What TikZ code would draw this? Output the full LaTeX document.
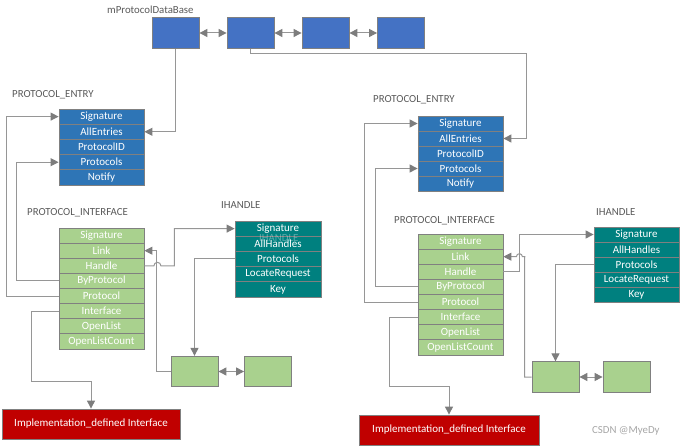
\documentclass[tikz,border=0pt]{standalone}
\usepackage{fontspec}
\setmainfont{Carlito}
\usetikzlibrary{arrows.meta,calc}
\definecolor{topblue}{HTML}{4472C4}
\definecolor{peblue}{HTML}{2E75B6}
\definecolor{pigreen}{HTML}{A9D18E}
\definecolor{ihteal}{HTML}{00807F}
\definecolor{implred}{HTML}{C00000}
\definecolor{cellborder}{RGB}{128,128,128}
\definecolor{conngray}{RGB}{150,150,150}
\definecolor{headgray}{RGB}{125,125,125}
\definecolor{lblgray}{RGB}{89,89,89}
\begin{document}
\begin{tikzpicture}[x=1pt,y=-1pt,
  cell/.style={draw=cellborder, line width=0.8pt, minimum width=85pt, minimum height=15.2pt,
    inner sep=0pt, text=white, font=\fontsize{11}{12}\selectfont},
  pecell/.style={cell, fill=peblue},
  picell/.style={cell, fill=pigreen, minimum height=15.125pt},
  ihcell/.style={cell, fill=ihteal},
  block/.style={draw=cellborder, line width=0.8pt, minimum width=47pt, minimum height=30.5pt, inner sep=0pt},
  lbl/.style={anchor=west, inner sep=0pt, text=lblgray, font=\fontsize{10.8}{12}\selectfont},
  tipA/.tip={Triangle[length=8pt,width=8pt,color=headgray]},
  conn/.style={draw=conngray, line width=1pt, -tipA},
  dconn/.style={draw=conngray, line width=1pt, tipA-tipA},
  redbox/.style={draw=cellborder, line width=0.8pt, fill=implred, text=white, minimum width=178pt,
    minimum height=30pt, inner sep=0pt, font=\fontsize{11}{12}\selectfont}
]
\useasboundingbox (0,0) rectangle (680,446);

% top list
\node[lbl] (dblbl) at (107,10) {mProtocolDataBase};
\node[block, fill=topblue] (t1) at (175.5,33) {};
\node[block, fill=topblue] (t2) at (250.5,33) {};
\node[block, fill=topblue] (t3) at (325.5,33) {};
\node[block, fill=topblue] (t4) at (401,33) {};
\draw[dconn] (t1.east) -- (t2.west);
\draw[dconn] (t2.east) -- (t3.west);
\draw[dconn] (t3.east) -- (t4.west);

% labels
\node[lbl] (lpelbl) at (12,95) {PROTOCOL\_ENTRY};
\node[lbl] (rpelbl) at (373,100) {PROTOCOL\_ENTRY};
\node[lbl] (lpilbl) at (27,213) {PROTOCOL\_INTERFACE};
\node[lbl] (rpilbl) at (394,221) {PROTOCOL\_INTERFACE};
\node[lbl] (lihlbl) at (221,205) {IHANDLE};
\node[lbl] (rihlbl) at (596,212) {IHANDLE};

% left tables
\foreach \t [count=\i] in {Signature,AllEntries,ProtocolID,Protocols,Notify}
  \node[pecell] (lpe\i) at (101.5,{109+15.2*(\i-0.5)}) {\t};
\foreach \t [count=\i] in {Signature,Link,Handle,ByProtocol,Protocol,Interface,OpenList,OpenListCount}
  \node[picell] (lpi\i) at (101.5,{228+15.125*(\i-0.5)}) {\t};
\foreach \t [count=\i] in {Signature,AllHandles,Protocols,LocateRequest,Key}
  \node[ihcell, minimum width=86pt] (lih\i) at (278,{221+15.2*(\i-0.5)}) {\t};
\node[lbl, text=white, opacity=0.35] (ghost) at (259,238) {IHANDLE};

% right tables
\foreach \t [count=\i] in {Signature,AllEntries,ProtocolID,Protocols,Notify}
  \node[pecell, minimum height=15pt] (rpe\i) at (460.5,{116+15*(\i-0.5)}) {\t};
\foreach \t [count=\i] in {Signature,Link,Handle,ByProtocol,Protocol,Interface,OpenList,OpenListCount}
  \node[picell] (rpi\i) at (460.5,{234+15.125*(\i-0.5)}) {\t};
\foreach \t [count=\i] in {Signature,AllHandles,Protocols,LocateRequest,Key}
  \node[ihcell, minimum height=15pt] (rih\i) at (636.5,{227+15*(\i-0.5)}) {\t};

% small green boxes
\node[block, fill=pigreen] (lsa) at (194.5,371.5) {};
\node[block, fill=pigreen] (lsb) at (268,371.5) {};
\node[block, fill=pigreen] (rsa) at (555.5,377) {};
\node[block, fill=pigreen] (rsb) at (626.5,377) {};
\draw[dconn] (lsa.east) -- (lsb.west);
\draw[dconn] (rsa.east) -- (rsb.west);

% red boxes
\node[redbox] (lred) at (91,424) {Implementation\_defined Interface};
\node[redbox, minimum width=180pt] (rred) at (449,430) {Implementation\_defined Interface};

% top connectors
\draw[conn] (t1.south) |- (lpe2.east);
\draw[conn] (t2.south) |- (526,54) |- (rpe2.east);

% left connectors
\draw[conn] (lpi5.west) -- ++(-52,0) |- (lpe1.west);
\draw[conn] (lpi4.west) -- ++(-42,0) |- (lpe4.west);
\draw[conn] (lpi3.east) -- ++(9.5,0) arc[start angle=180,end angle=0,radius=3.5pt] -- ++(13.5,0) |- (lih1.west);
\draw[conn] (lsa.west) -- ++(-14,0) |- (lpi2.east);
\draw[conn] (lih3.west) -| (lsa.north);
\draw[conn] (lpi6.west) -- ++(-27,0) -- ++(0,70) -| (lred.north);

% right connectors
\draw[conn] (rpi5.west) -- ++(-53,0) |- (rpe1.west);
\draw[conn] (rpi4.west) -- ++(-42,0) |- (rpe4.west);
\draw[conn] (rpi3.east) -- ++(16,0) |- (rih1.west);
\draw[conn] (rsa.west) -- ++(-7,0) |- ($(rpi2.east)+(22,0)$) -- ++(-3,0) arc[start angle=0,end angle=180,radius=3pt] -- (rpi2.east);
\draw[conn] (rih3.west) -| (rsa.north);
\draw[conn] (rpi6.west) -- ++(-28,0) -- ++(0,69) -| (rred.north);

% watermark
\node[lbl, text=gray!70] (wm) at (592,431) {CSDN @MyeDy};
\end{tikzpicture}
\end{document}
